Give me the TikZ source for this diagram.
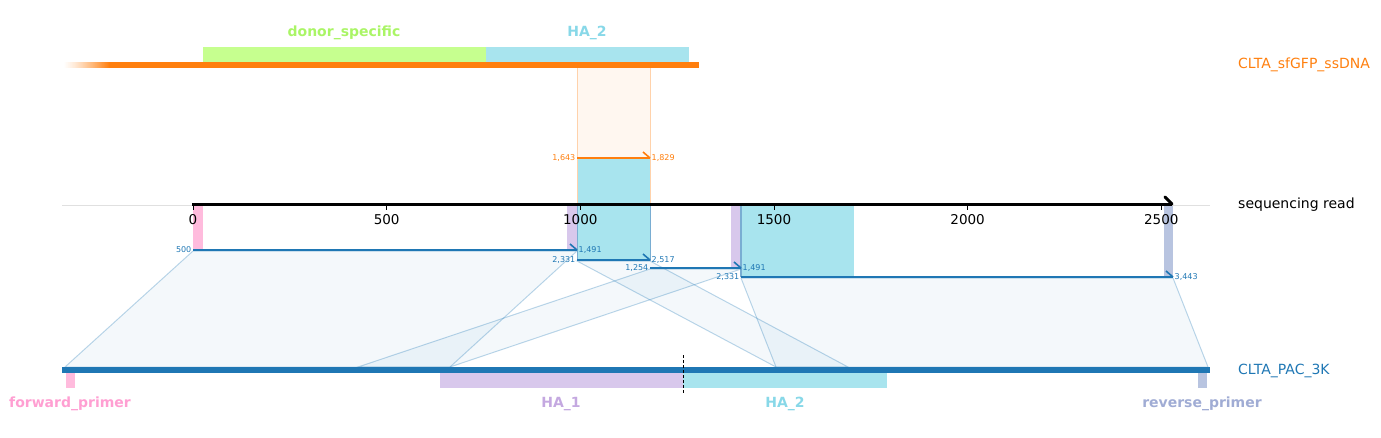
\documentclass[tikz,border=0pt]{standalone}
\usepackage{fontspec}
\setmainfont{DejaVu Sans}
\usetikzlibrary{positioning}
\definecolor{pacblue}{HTML}{1F77B4}
\definecolor{ssorange}{HTML}{FF7F0E}
\definecolor{featgreen}{HTML}{C6FF8F}
\definecolor{featcyan}{HTML}{A8E4EE}
\definecolor{featpink}{HTML}{FFBBDD}
\definecolor{featpurple}{HTML}{D8C8EC}
\definecolor{featslate}{HTML}{B8C4E0}
\definecolor{labgreen}{HTML}{AAF566}
\definecolor{labcyan}{HTML}{88D8E8}
\definecolor{labpink}{HTML}{FF9FD2}
\definecolor{labpurple}{HTML}{C4A8E0}
\definecolor{labslate}{HTML}{A0ACD4}
\tikzset{
  featlabel/.style={font=\fontsize{14}{16}\selectfont\bfseries, inner sep=0pt},
  seqlabel/.style={font=\fontsize{14}{16}\selectfont, anchor=west, inner sep=0pt},
  ticklabel/.style={font=\fontsize{13.5}{15}\selectfont, inner sep=0pt},
  posl/.style={font=\fontsize{8}{9}\selectfont, anchor=east, inner sep=1.5pt},
  posr/.style={font=\fontsize{8}{9}\selectfont, anchor=west, inner sep=1.5pt},
  alnline/.style={draw=pacblue, line width=2pt},
  alnpoly/.style={fill=pacblue, fill opacity=0.05, draw=pacblue, draw opacity=0.3, line width=1pt},
}

\begin{document}
\begin{tikzpicture}[x=1pt, y=-1pt]
\useasboundingbox (0,0) rectangle (1381,437);

%% Donor CLTA_sfGFP_ssDNA
\fill[featgreen] (203,47) rectangle (486,62);
\fill[featcyan] (486,47) rectangle (689,62);
\node[featlabel, text=labgreen] (donorlab) at (344,33) {donor\_specific};
\node[featlabel, text=labcyan] (ha2toplab) at (587,33) {HA\_2};
% fading start of the donor
\foreach \i in {0,...,47}{
  \pgfmathtruncatemacro{\shadeval}{100*(\i/47)^1.3}
  \fill[ssorange!\shadeval] ({62+\i},62) rectangle ({63.2+\i},68);
}
\fill[ssorange] (109,62) rectangle (699,68);
\node[seqlabel, text=ssorange] (donorname) at (1238,65) {CLTA\_sfGFP\_ssDNA};

% donor alignment band
\fill[ssorange!6] (577,68) rectangle (650,158);
\fill[featcyan] (577,158) rectangle (650,204);
\draw[ssorange!35, line width=0.8pt] (577,68) -- (577,204) (650,68) -- (650,204);
\coordinate (d1s) at (577,158);
\coordinate (d1e) at (650,158);
\draw[ssorange, line width=2pt] (d1s) -- (d1e);
\draw[ssorange, line width=1.6pt] (d1e) -- ++(-7,-6);
\node[posl, text=ssorange] at (d1s) {1{,}643};
\node[posr, text=ssorange] at (d1e) {1{,}829};

%% Features on the read
\fill[featpink] (193,205) rectangle (203,250);
\fill[featpurple] (567,205) rectangle (577,250);
\filldraw[fill=featcyan, draw=pacblue!60, line width=0.8pt] (577,205) rectangle (650,260);
\fill[featpurple] (731,205) rectangle (741,268);
\filldraw[fill=featcyan, draw=none] (741,205) rectangle (854,277);
\draw[pacblue!60, line width=1.2pt] (741,205) -- (741,277);
\fill[featslate] (1164,205) rectangle (1173,277);

%% Sequencing read axis
\draw[black!12, line width=0.6pt] (62,205) -- (1210,205);
\coordinate (rs) at (192,204);
\coordinate (re) at (1172,204);
\draw[black, line width=3pt] (rs) -- (re);
\draw[black, line width=3pt, line cap=round] (re) -- ++(-7,-7);
\foreach \v in {0,500,1000,1500,2000,2500}{
  \draw[black, line width=0.8pt] ({193+\v*0.3873},204) -- ++(0,6);
  \node[ticklabel, anchor=north] at ({193+\v*0.3873},214) {\v};
}
\node[seqlabel, text=black] (readname) at (1238,205) {sequencing read};

%% Alignments to CLTA_PAC_3K
\foreach \rs/\re/\y/\gs/\ge in {193/577/250/65/450, 577/650/260/776/848,
                               650/741/268/358/450, 741/1173/277/776/1208}{
  \filldraw[alnpoly] (\rs,\y+1) -- (\re,\y+1) -- (\ge,367) -- (\gs,367) -- cycle;
}
\foreach \rs/\re/\y/\ls/\le [count=\i] in {193/577/250/500/1{,}491, 577/650/260/2{,}331/2{,}517,
                                          650/741/268/1{,}254/1{,}491, 741/1173/277/2{,}331/3{,}443}{
  \coordinate (a\i s) at (\rs,\y);
  \coordinate (a\i e) at (\re,\y);
  \draw[alnline] (a\i s) -- (a\i e);
  \draw[pacblue, line width=1.6pt] (a\i e) -- ++(-7,-6);
  \node[posl, text=pacblue] at (a\i s) {\ls};
  \node[posr, text=pacblue] at (a\i e) {\le};
}

%% Reference CLTA_PAC_3K
\fill[pacblue] (62,367) rectangle (1210,373);
\node[seqlabel, text=pacblue] (refname) at (1238,371) {CLTA\_PAC\_3K};
\fill[featpink] (66,373) rectangle (75,388);
\fill[featpurple] (440,373) rectangle (683,388);
\fill[featcyan] (683,373) rectangle (887,388);
\fill[featslate] (1198,373) rectangle (1207,388);
\draw[black, line width=0.8pt, dash pattern=on 3pt off 2pt] (683,355) -- (683,393);
\node[featlabel, text=labpink] (fwdlab) at (70,404) {forward\_primer};
\node[featlabel, text=labpurple] (ha1lab) at (561,404) {HA\_1};
\node[featlabel, text=labcyan] (ha2lab) at (785,404) {HA\_2};
\node[featlabel, text=labslate] (revlab) at (1202,404) {reverse\_primer};

\end{tikzpicture}
\end{document}
